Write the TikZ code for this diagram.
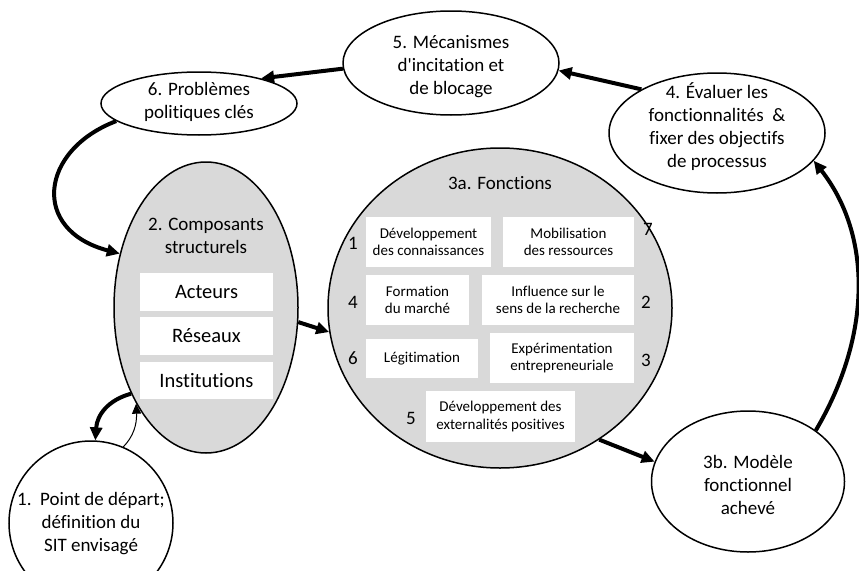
\documentclass[tikz,border=0pt]{standalone}
\usepackage{fontspec}
\setmainfont{Carlito}[Ligatures=NoCommon]
\usetikzlibrary{shapes.geometric,arrows.meta}
\definecolor{cellgrey}{HTML}{D9D9D9}
\tikzset{
  ell/.style={ellipse, draw=black, line width=1.5pt, inner sep=0pt, fill=white},
  gell/.style={ell, fill=cellgrey},
  lbl/.style={align=center, inner sep=0pt, font=\fontsize{19}{23}\selectfont},
  num/.style={inner sep=0pt, font=\fontsize{19}{23}\selectfont},
  sbox/.style={fill=white, draw=none, inner sep=0pt, align=center, font=\fontsize{20.5}{24}\selectfont},
  fbox/.style={fill=white, draw=none, inner sep=0pt, align=center, font=\fontsize{15}{17.5}\selectfont},
  bigarrow/.style={line width=4pt, -{Triangle[length=13pt,width=12pt]}},
  thinarrow/.style={line width=1pt, -{Triangle[length=10pt,width=9pt]}}
}
\begin{document}
\begin{tikzpicture}[x=1pt,y=-1pt]
\useasboundingbox (0,0) rectangle (859,570);
\clip (0,0) rectangle (859,570);
\fill[white] (0,0) rectangle (859,570);

% ellipses
\node[ell, minimum width=216pt, minimum height=104pt] (e5) at (451,63) {};
\node[ell, minimum width=196pt, minimum height=63pt] (e6) at (199,103.5) {};
\node[ell, minimum width=216pt, minimum height=120pt] (e4) at (717,133) {};
\node[gell, minimum width=184pt, minimum height=291pt] (e2) at (206,307.5) {};
\node[gell, minimum width=344pt, minimum height=320pt] (e3a) at (500,308) {};
\node[ell, minimum width=193pt, minimum height=141pt] (e3b) at (748,481.5) {};
\node[ell, minimum width=164pt, minimum height=164pt] (e1) at (91,523) {};

% labels
\node[lbl] (t5) at (451,67) {5. Mécanismes\\d\textquotesingle incitation et\\de blocage};
\node[lbl] (t6) at (199,101.5) {6. Problèmes\\politiques clés};
\node[lbl] (t4) at (717,126.5) {4. Évaluer les\\fonctionnalités~~\&\\fixer des objectifs\\de processus};
\node[lbl] (t2) at (206,235.5) {2. Composants\\structurels};
\node[lbl] (t3a) at (500,183) {3a. Fonctions};
\node[lbl] (t3b) at (748,484.5) {3b. Modèle\\fonctionnel\\achevé};
\node[lbl] (t1) at (91,523.5) {1.~~Point de départ;\\définition du\\SIT envisagé};

% structural boxes
\node[sbox, minimum width=133pt, minimum height=38pt] (b1) at (206.5,292) {Acteurs};
\node[sbox, minimum width=133pt, minimum height=38pt] (b2) at (206.5,336) {Réseaux};
\node[sbox, minimum width=133pt, minimum height=37pt] (b3) at (206.5,380.5) {Institutions};

% function boxes
\node[fbox, minimum width=125pt, minimum height=50pt] (f1) at (428.5,242) {Développement\\des connaissances};
\node[fbox, minimum width=131pt, minimum height=50pt] (f7) at (568.5,242) {Mobilisation\\des ressources};
\node[fbox, minimum width=103pt, minimum height=50pt] (f4) at (417.5,300) {Formation\\du marché};
\node[fbox, minimum width=152pt, minimum height=50pt] (f2) at (558,300) {Influence sur le\\sens de la recherche};
\node[fbox, minimum width=112pt, minimum height=39pt] (f6) at (422,358.5) {Légitimation};
\node[fbox, minimum width=144pt, minimum height=50pt] (f3) at (562,358) {Expérimentation\\entrepreneuriale};
\node[fbox, minimum width=149pt, minimum height=51pt] (f5) at (500.5,416.5) {Développement des\\externalités positives};

% numbers
\node[num] (n1) at (353,243) {1};
\node[num] (n7) at (648,229) {7};
\node[num] (n4) at (353,302) {4};
\node[num] (n2) at (646,302) {2};
\node[num] (n6) at (353,358) {6};
\node[num] (n3) at (646,360) {3};
\node[num] (n5) at (411,418) {5};

% connectors
\draw[bigarrow] (e4.150) -- (e5.-4);
\draw[bigarrow] (e5.183) -- (e6.22);
\draw[bigarrow] (e6.192) .. controls (40,150) and (30,230) .. (e2.148);
\draw[bigarrow] (e2.-9) -- (e3a.188);
\draw[bigarrow] (e3a.-53) -- (e3b.168);
\draw[bigarrow] (e3b.37) .. controls (872,335) and (872,235) .. (e4.-16);
\draw[bigarrow] (e2.229) .. controls (108,400) and (97,415) .. (e1.87);
\draw[thinarrow] (e1.67) .. controls (133,437) and (137,425) .. (e2.234);
\end{tikzpicture}
\end{document}
